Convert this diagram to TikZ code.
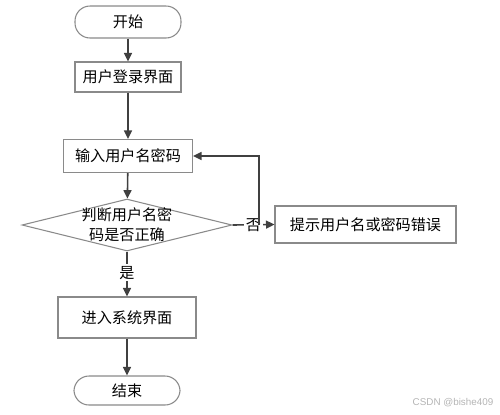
\documentclass[tikz,border=0pt]{standalone}
\usepackage{fontspec}
\newfontfamily\cjk{Noto Sans CJK SC}
\usetikzlibrary{shapes.geometric,arrows.meta}
\definecolor{boxgray}{HTML}{8A8A8A}
\definecolor{linegray}{HTML}{404040}
\definecolor{wmgray}{HTML}{B4B4B4}
\begin{document}
\begin{tikzpicture}[x=0.02cm,y=-0.02cm,
  every node/.style={font=\cjk\fontsize{8.6}{11.4}\selectfont},
  box/.style={draw=boxgray, line width=0.6pt, fill=white, inner sep=0pt, align=center},
  term/.style={box, rounded corners=0.3cm},
  dec/.style={draw=boxgray, line width=0.6pt, fill=white, shape=diamond, inner sep=0pt,
    minimum width=4.2cm, minimum height=1.04cm},
  conn/.style={draw=linegray, line width=0.9pt, -{Triangle[length=0.17cm,width=0.16cm]}},
  plain/.style={draw=linegray, line width=0.9pt},
  lbl/.style={fill=white, inner sep=1pt}]
\useasboundingbox (0,0) rectangle (500,414);
\node[term, minimum width=2.12cm, minimum height=0.64cm] (start) at (128,22) {开始};
\node[box, minimum width=2.12cm, minimum height=0.6cm] (login) at (128,77) {用户登录界面};
\node[box, minimum width=2.58cm, minimum height=0.66cm] (input) at (128,156) {输入用户名密码};
\node[dec, label={[align=center, font=\cjk\fontsize{8.6}{11.4}\selectfont]center:判断用户名密\\码是否正确}] (check) at (127,225) {};
\node[box, minimum width=3.62cm, minimum height=0.74cm] (hint) at (365.5,224.5) {提示用户名或密码错误};
\node[box, minimum width=2.76cm, minimum height=0.82cm] (enter) at (127,317.5) {进入系统界面};
\node[term, minimum width=2.12cm, minimum height=0.58cm] (end) at (127,390.5) {结束};
\coordinate (j) at (259,225);
\node[font=\fontspec{Liberation Sans}\fontsize{5.6}{6.5}\selectfont, text=wmgray] (wm) at (453,403) {CSDN @bishe409};

\draw[conn] (start) -- (login);
\draw[conn] (login) -- (input);
\draw[conn] (input) -- (check);
\draw[conn] (check.east) -- node[lbl, pos=0.5] (no) {否} (hint.west);
\draw[conn] (j) |- (input.east);
\draw[conn] (check.south) -- node[lbl, pos=0.47] (yes) {是} (enter.north);
\draw[conn] (enter) -- (end);
\end{tikzpicture}
\end{document}
